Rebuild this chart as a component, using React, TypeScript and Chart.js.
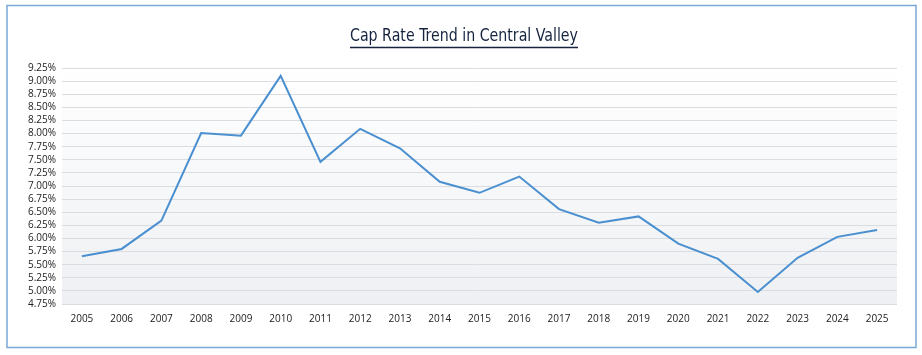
import React, { useEffect, useRef } from "react";
import { Chart, registerables } from "chart.js";

Chart.register(...registerables);

const years = ["2005","2006","2007","2008","2009","2010","2011","2012","2013","2014","2015","2016","2017","2018","2019","2020","2021","2022","2023","2024","2025"];
const capRates = [5.66, 5.80, 6.34, 8.01, 7.96, 9.10, 7.46, 8.09, 7.72, 7.08, 6.87, 7.18, 6.56, 6.30, 6.42, 5.90, 5.61, 4.98, 5.63, 6.03, 6.16];
const chartTitle = "Cap Rate Trend in Central Valley";
const yMin = 4.75;
const yMax = 9.25;
const yStep = 0.25;

const decorPlugin = {
  id: "decor",
  beforeDraw(chart: any) {
    const { ctx, chartArea, width, height } = chart;
    ctx.save();
    ctx.fillStyle = "#ffffff";
    ctx.fillRect(0, 0, width, height);
    const g = ctx.createLinearGradient(0, chartArea.top, 0, chartArea.bottom);
    g.addColorStop(0, "#ffffff");
    g.addColorStop(1, "#eef0f3");
    ctx.fillStyle = g;
    ctx.fillRect(chartArea.left, chartArea.top, chartArea.right - chartArea.left, chartArea.bottom - chartArea.top);
    ctx.restore();
  },
  afterDraw(chart: any) {
    const { ctx } = chart;
    ctx.save();
    ctx.strokeStyle = "#7aa9d6";
    ctx.lineWidth = 1.5;
    ctx.strokeRect(7, 5.5, 909, 342);
    ctx.fillStyle = "#15233f";
    ctx.font = "17px 'DejaVu Sans Condensed', 'DejaVu Sans', sans-serif";
    ctx.textAlign = "center";
    ctx.textBaseline = "middle";
    const cx = 464;
    const w = Math.min(ctx.measureText(chartTitle).width, 228);
    ctx.fillText(chartTitle, cx, 37, 228);
    ctx.strokeStyle = "#15233f";
    ctx.lineWidth = 1.5;
    ctx.beginPath();
    ctx.moveTo(cx - w / 2, 47.5);
    ctx.lineTo(cx + w / 2, 47.5);
    ctx.stroke();
    ctx.restore();
  },
};

export default function App() {
  const ref = useRef<HTMLCanvasElement>(null);
  useEffect(() => {
    if (!ref.current) return;
    const chart = new Chart(ref.current, {
      type: "line",
      data: {
        labels: years,
        datasets: [
          {
            data: capRates,
            borderColor: "#4a8fcf",
            borderWidth: 2,
            pointRadius: 0,
            tension: 0,
            fill: false,
          },
        ],
      },
      options: {
        animation: false,
        responsive: false,
        layout: { padding: { top: 68, right: 25, left: 0, bottom: 0 } },
        plugins: { legend: { display: false }, title: { display: false }, tooltip: { enabled: false } },
        scales: {
          x: {
            offset: true,
            grid: { display: false, drawTicks: false },
            border: { display: false },
            ticks: {
              color: "#222222",
              font: { family: "'Open Sans', sans-serif", size: 10 },
              padding: 9,
              maxRotation: 0,
              autoSkip: false,
            },
            afterFit(scale: any) {
              scale.height = 51;
            },
          },
          y: {
            min: yMin,
            max: yMax,
            grid: { color: "#dadce1", lineWidth: 1, drawTicks: false },
            border: { display: false },
            ticks: {
              stepSize: yStep,
              autoSkip: false,
              color: "#222222",
              font: { family: "'Open Sans', sans-serif", size: 10 },
              padding: 6,
              callback: (v: any) => Number(v).toFixed(2) + "%",
            },
            afterFit(scale: any) {
              scale.width = 62;
            },
          },
        },
      },
      plugins: [decorPlugin],
    });
    return () => chart.destroy();
  }, []);
  return (
    <div style={{ position: "absolute", left: 0, top: 0, width: 922, height: 355 }}>
      <canvas ref={ref} width={922} height={355} />
    </div>
  );
}
